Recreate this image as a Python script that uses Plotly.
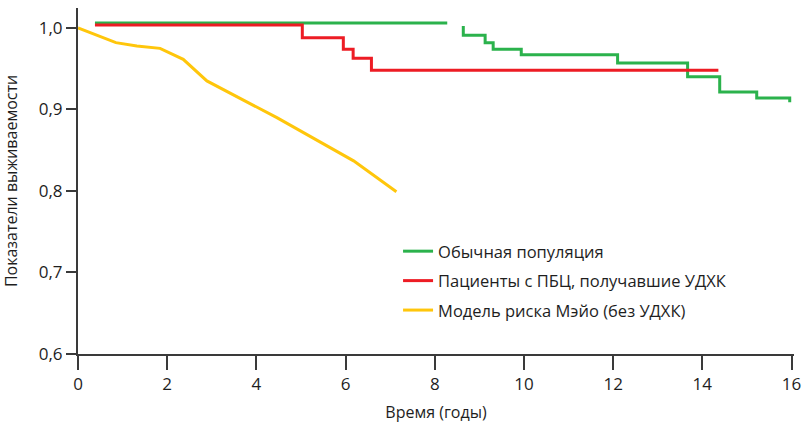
import plotly.graph_objects as go

# Обычная популяция (None = break in line)
green_x = [0.38, 8.28, None, 8.64, 8.64, 9.13, 9.13, 9.31, 9.31, 9.94, 9.94, 12.10, 12.10, 13.67, 13.67, 14.39, 14.39, 15.22, 15.22, 15.96, 15.96]
green_y = [1.006, 1.006, None, 1.0025, 0.991, 0.991, 0.982, 0.982, 0.974, 0.974, 0.967, 0.967, 0.957, 0.957, 0.940, 0.940, 0.9215, 0.9215, 0.914, 0.914, 0.909]

# Пациенты с ПБЦ, получавшие УДХК
red_x = [0.38, 5.03, 5.03, 5.95, 5.95, 6.17, 6.17, 6.58, 6.58, 14.36]
red_y = [1.0035, 1.0035, 0.988, 0.988, 0.974, 0.974, 0.963, 0.963, 0.948, 0.948]

# Модель риска Мэйо (без УДХК)
yellow_x = [0.0, 0.85, 1.32, 1.84, 2.36, 2.89, 4.46, 5.88, 6.18, 7.14]
yellow_y = [1.0, 0.982, 0.978, 0.975, 0.9615, 0.935, 0.890, 0.846, 0.837, 0.799]

x_ticks = [0, 2, 4, 6, 8, 10, 12, 14, 16]
y_ticks = [0.6, 0.7, 0.8, 0.9, 1.0]
y_ticktext = ["0,6", "0,7", "0,8", "0,9", "1,0"]

names = ["Обычная популяция", "Пациенты с ПБЦ, получавшие УДХК", "Модель риска Мэйо (без УДХК)"]
colors = ["#2bb24c", "#ed1c24", "#ffc60b"]

FONT = "Open Sans"
AX = "#3a3a3a"
TXT = "#1e1e1e"

fig = go.Figure()
for i, (xs, ys) in enumerate([(green_x, green_y), (red_x, red_y), (yellow_x, yellow_y)]):
    fig.add_trace(go.Scatter(x=xs, y=ys, mode="lines", name=names[i],
                             line=dict(color=colors[i], width=3), connectgaps=False,
                             legendgroup=str(i)))

fig.update_layout(
    width=803, height=425,
    margin=dict(l=78, r=9, t=8, b=71),
    paper_bgcolor="white", plot_bgcolor="white",
    font=dict(family=FONT, size=16, color=TXT),
    showlegend=True,
    legend=dict(x=0.447, y=0.347, xanchor="left", yanchor="top",
                font=dict(family=FONT, size=16.5, color=TXT),
                itemwidth=30, tracegroupgap=5, bgcolor="rgba(0,0,0,0)",
                traceorder="grouped"),
    xaxis=dict(range=[0, 16.056], tickvals=x_ticks, ticks="outside", ticklen=14, tickwidth=2,
               tickcolor=AX, showline=True, linecolor=AX, linewidth=2, showgrid=False,
               zeroline=False, tickfont=dict(size=17, color=TXT), automargin=False,
               title=dict(text="Время (годы)", font=dict(size=16, color=TXT), standoff=12)),
    yaxis=dict(range=[0.6, 1.0245], tickvals=y_ticks, ticktext=y_ticktext, ticks="outside",
               ticklen=10, tickwidth=2, tickcolor=AX, showline=True, linecolor=AX, linewidth=2,
               showgrid=False, zeroline=False, tickfont=dict(size=17, color=TXT), automargin=False,
               title=dict(text="Показатели выживаемости", font=dict(size=16, color=TXT), standoff=18)),
)

fig.write_html("out.html")
